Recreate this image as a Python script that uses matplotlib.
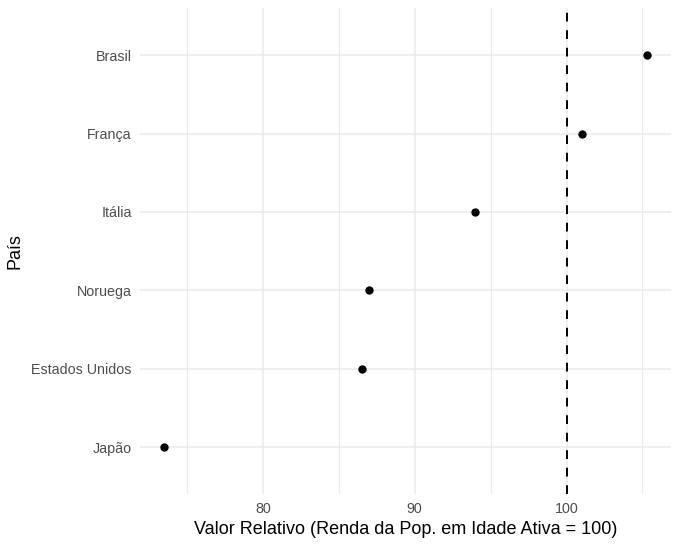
import numpy as np
import matplotlib
matplotlib.use('Agg')
import matplotlib.pyplot as plt
from matplotlib.ticker import MultipleLocator

plt.rcParams['font.family'] = ['Liberation Sans', 'DejaVu Sans']

paises = ['Japão', 'Estados Unidos', 'Noruega', 'Itália', 'França', 'Brasil']
valores = [73.5, 86.5, 87.0, 94.0, 101.0, 105.3]
referencia = 100

fig = plt.figure(figsize=(6.8, 5.46), dpi=100)
ax = fig.add_axes([0.206, 0.095, 0.781, 0.890])

y = np.arange(len(paises))
ax.scatter(valores, y, s=36, color='black', zorder=3, linewidths=0)
ax.axvline(referencia, color='black', linestyle=(0, (4.5, 4.5)), linewidth=1.4, zorder=2)

# ggplot-like expansion
lo, hi = min(valores), max(valores)
pad = (hi - lo) * 0.05
ax.set_xlim(lo - pad, hi + pad)
ax.set_ylim(-0.6, len(paises) - 0.4)

ax.set_yticks(y)
ax.set_yticklabels(paises)
ax.xaxis.set_major_locator(MultipleLocator(10))
ax.xaxis.set_minor_locator(MultipleLocator(5))

ax.grid(which='major', color='#EBEBEB', linewidth=1.1)
ax.grid(which='minor', axis='x', color='#EBEBEB', linewidth=0.8)
ax.set_axisbelow(True)

for s in ax.spines.values():
    s.set_visible(False)
ax.tick_params(which='both', length=0, labelsize=10.3, labelcolor='#4D4D4D', pad=6)

ax.set_xlabel('Valor Relativo (Renda da Pop. em Idade Ativa = 100)', fontsize=13, labelpad=3)
ax.set_ylabel('País', fontsize=13, labelpad=6)

fig.savefig('out.png', dpi=100)
